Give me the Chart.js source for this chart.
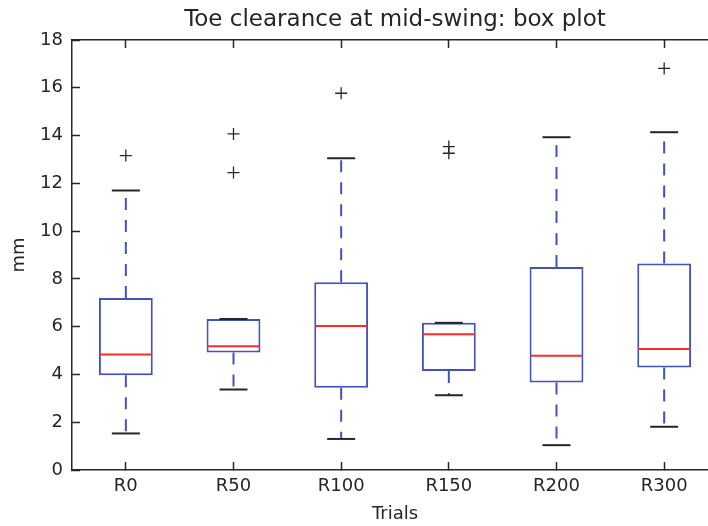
<!DOCTYPE html>
<html>
<head>
<meta charset="utf-8">
<script src="https://cdn.jsdelivr.net/npm/chart.js@4.4.0/dist/chart.umd.min.js"></script>
<style>
html, body { margin: 0; padding: 0; overflow: hidden; background: #fff; }
#wrap { width: 790px; height: 526px; position: relative; }
</style>
</head>
<body>
<div id="wrap"><canvas id="c"></canvas></div>
<script>
const categories = ['R0', 'R50', 'R100', 'R150', 'R200', 'R300'];
const whiskerLow  = [1.53, 3.37, 1.30, 3.13, 1.04, 1.81];
const q1          = [3.97, 4.92, 3.44, 4.14, 3.66, 4.29];
const median      = [4.83, 5.18, 6.03, 5.68, 4.78, 5.07];
const q3          = [7.20, 6.32, 7.86, 6.16, 8.50, 8.64];
const whiskerHigh = [11.70, 6.32, 13.05, 6.16, 13.93, 14.14];
const outliers    = [[13.16], [12.45, 14.07], [15.77], [13.26, 13.54], [], [16.81]];
const yTicks = [0, 2, 4, 6, 8, 10, 12, 14, 16, 18];

const BLUE = '#4252be';
const RED = '#ff2b2b';
const DARK = '#262626';
const FONT = 'DejaVu Sans';

const boxData = categories.map((c, i) => [q1[i], q3[i]]);
const whiskerUp = categories.flatMap((c, i) => [{x: c, y: q3[i]}, {x: c, y: whiskerHigh[i]}, {x: c, y: null}]);
const whiskerDown = categories.flatMap((c, i) => [{x: c, y: q1[i]}, {x: c, y: whiskerLow[i]}, {x: c, y: null}]);
const capPts = categories.flatMap((c, i) => [{x: c, y: whiskerLow[i]}, {x: c, y: whiskerHigh[i]}]);
const outlierPts = categories.flatMap((c, i) => outliers[i].map(v => ({x: c, y: v})));

const tickGrid = {
  drawOnChartArea: false,
  tickLength: -8,
  tickWidth: 1.5,
  color: DARK,
  offset: false
};
const border = { display: true, color: DARK, width: 1.5 };

new Chart(document.getElementById('c'), {
  type: 'bar',
  data: {
    labels: categories,
    datasets: [
      {
        type: 'line', label: 'whiskerUp', data: whiskerUp,
        borderColor: BLUE, borderWidth: 2, borderDash: [12, 10],
        pointRadius: 0, spanGaps: false, fill: false, order: 3
      },
      {
        type: 'line', label: 'whiskerDown', data: whiskerDown,
        borderColor: BLUE, borderWidth: 2, borderDash: [12, 10],
        pointRadius: 0, spanGaps: false, fill: false, order: 3
      },
      {
        type: 'bar', label: 'box', data: boxData,
        backgroundColor: 'rgba(255,255,255,1)', borderColor: BLUE, borderWidth: 2,
        borderSkipped: false, barPercentage: 0.5, categoryPercentage: 1.0, order: 2
      },
      {
        type: 'line', label: 'median', data: median,
        showLine: false, pointStyle: 'line', pointRadius: 26,
        pointBorderColor: RED, pointBorderWidth: 2, order: 1
      },
      {
        type: 'line', label: 'caps', data: capPts,
        showLine: false, pointStyle: 'line', pointRadius: 14,
        pointBorderColor: DARK, pointBorderWidth: 2, order: 1
      },
      {
        type: 'line', label: 'outliers', data: outlierPts,
        showLine: false, pointStyle: 'cross', pointRadius: 6,
        pointBorderColor: DARK, pointBorderWidth: 1.3, order: 1
      }
    ]
  },
  options: {
    responsive: true,
    maintainAspectRatio: false,
    animation: false,
    layout: { padding: { left: 0, right: 0, top: 0, bottom: 0 } },
    plugins: {
      legend: { display: false },
      tooltip: { enabled: false },
      title: {
        display: true,
        text: 'Toe clearance at mid-swing: box plot',
        color: DARK,
        font: { family: FONT, size: 23, weight: 'normal' },
        padding: { top: 6, bottom: 6.4 }
      }
    },
    scales: {
      x: {
        type: 'category', position: 'bottom', offset: true,
        grid: tickGrid, border: border,
        ticks: { color: DARK, font: { family: FONT, size: 18 }, padding: 14, maxRotation: 0 },
        title: { display: true, text: 'Trials', color: DARK, font: { family: FONT, size: 18 }, padding: { top: 0, bottom: 1 } },
        afterFit: s => { s.height = 56; }
      },
      x2: {
        type: 'category', position: 'top', offset: true,
        grid: tickGrid, border: border,
        ticks: { display: false },
        afterFit: s => { s.height = 0; }
      },
      y: {
        type: 'linear', position: 'left', min: 0, max: 18,
        grid: tickGrid, border: border,
        afterBuildTicks: s => { s.ticks = yTicks.map(v => ({ value: v })); },
        ticks: { color: DARK, font: { family: FONT, size: 18 }, padding: 17 },
        title: { display: true, text: 'mm', color: DARK, font: { family: FONT, size: 18 }, padding: { top: 9, bottom: 0 } },
        afterFit: s => { s.width = 72; }
      },
      y2: {
        type: 'linear', position: 'right', min: 0, max: 18,
        grid: tickGrid, border: border,
        afterBuildTicks: s => { s.ticks = yTicks.map(v => ({ value: v })); },
        ticks: { display: false },
        afterFit: s => { s.width = 72; }
      }
    }
  }
});
</script>
</body>
</html>
